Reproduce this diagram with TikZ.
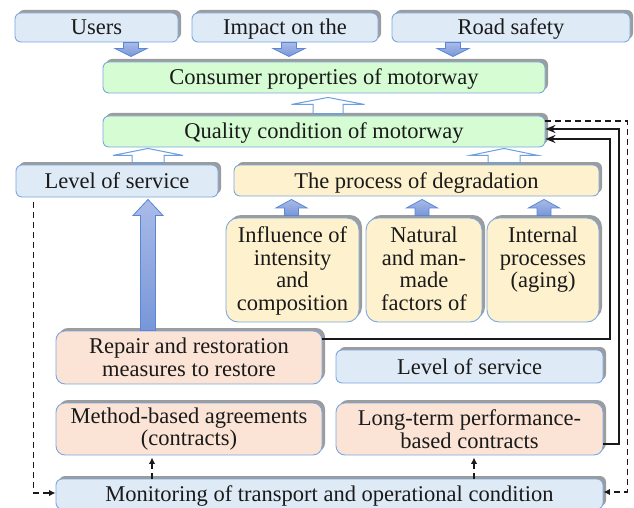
\documentclass[tikz,border=0pt]{standalone}
\usepackage{fontspec}
\setmainfont{Liberation Serif}
\usetikzlibrary{shadows,arrows.meta,calc}
\definecolor{bluefill}{HTML}{DEEAF6}
\definecolor{greenfill}{HTML}{D6FCD4}
\definecolor{yellowfill}{HTML}{FEF1CD}
\definecolor{peachfill}{HTML}{FBE4D6}
\definecolor{edgeblue}{HTML}{7BA8E0}
\definecolor{shadowgray}{HTML}{9C9C9C}
\definecolor{arrowlight}{HTML}{A9BBE8}
\definecolor{arrowdark}{HTML}{7896D8}
\definecolor{arrowedge}{HTML}{5A86D6}
\definecolor{hollowedge}{HTML}{6A9FE0}
\definecolor{txt}{HTML}{1A1A1A}
\tikzset{
  box/.style={draw=edgeblue, line width=0.9pt, rounded corners=6pt, text=txt,
    inner sep=0pt, align=center,
    drop shadow={shadow xshift=3pt, shadow yshift=3pt, fill=shadowgray, opacity=1},
    font=\fontsize{22.5}{22.5}\selectfont},
  oneline/.style={text height=15pt, text depth=0pt},
  bluebox/.style={box, fill=bluefill},
  greenbox/.style={box, fill=greenfill},
  yellowbox/.style={box, fill=yellowfill},
  peachbox/.style={box, fill=peachfill, rounded corners=9pt},
  tallbox/.style={rounded corners=12pt, minimum height=104pt},
  filledarrow/.style={draw=arrowedge, line width=0.8pt, top color=arrowlight, bottom color=arrowdark},
  hollowarrow/.style={draw=hollowedge, line width=1pt, fill=white},
  conn/.style={draw=black!90, line width=2pt, -{Stealth[length=10pt,width=8pt]}},
  dconn/.style={draw=black!90, line width=1.6pt, dash pattern=on 6pt off 4pt, -{Latex[length=6.5pt,width=6.5pt]}},
}
% #1 style, #2 tail point, #3 tip point (only its y is used), #4 half shaft, #5 half head, #6 head length
\newcommand{\blockarrow}[6]{%
  \path[#1] let \p1=#2, \p2=#3, \n1={sign(\y2-\y1)} in
    ({\x1-#4pt},\y1) -- ({\x1+#4pt},\y1) -- ({\x1+#4pt},{\y2-(\n1)*#6pt})
    -- ({\x1+#5pt},{\y2-(\n1)*#6pt}) -- (\x1,\y2) -- ({\x1-#5pt},{\y2-(\n1)*#6pt})
    -- ({\x1-#4pt},{\y2-(\n1)*#6pt}) -- cycle;}
\begin{document}
\begin{tikzpicture}[x=1pt,y=-1pt]
\useasboundingbox (0,0) rectangle (634,508);
% top row
\node[bluebox, oneline, minimum width=163pt, minimum height=29pt] (users) at (96.5,27.5) {Users};
\node[bluebox, oneline, minimum width=186pt, minimum height=29pt] (impact) at (285,27.5) {Impact on the};
\node[bluebox, oneline, minimum width=238pt, minimum height=29pt] (road) at (511,27.5) {Road safety};
% green boxes
\node[greenbox, oneline, minimum width=442pt, minimum height=31pt] (consumer) at (324,77.5) {Consumer properties of motorway};
\node[greenbox, oneline, minimum width=442pt, minimum height=31pt] (quality) at (324,131.5) {Quality condition of motorway};
% third row
\node[bluebox, oneline, minimum width=202pt, minimum height=32pt] (los1) at (117,181) {Level of service};
\node[yellowbox, oneline, minimum width=365pt, minimum height=31pt] (degr) at (416.5,180.5) {The process of degradation};
% factors
\node[yellowbox, tallbox, minimum width=133pt] (infl) at (292.5,270)
  {\parbox[t][86pt][t]{128pt}{\centering Influence of\\intensity\\and\\composition}};
\node[yellowbox, tallbox, minimum width=116pt] (natural) at (424,270)
  {\parbox[t][86pt][t]{112pt}{\centering Natural\\and man-\\made\\factors of}};
\node[yellowbox, tallbox, minimum width=112pt] (internal) at (543,270)
  {\parbox[t][86pt][t]{108pt}{\centering Internal\\processes\\(aging)}};
% lower boxes
\node[peachbox, minimum width=266pt, minimum height=53pt] (repair) at (189,357.5) {Repair and restoration\\measures to restore};
\node[bluebox, oneline, minimum width=267pt, minimum height=33pt] (los2) at (469.5,366.5) {Level of service};
\node[peachbox, minimum width=266pt, minimum height=52pt] (method) at (189,429) {Method-based agreements\\(contracts)};
\node[peachbox, minimum width=267pt, minimum height=52pt] (longterm) at (469.5,429) {Long-term performance-\\based contracts};
\node[bluebox, oneline, minimum width=547pt, minimum height=30pt] (monitor) at (329.5,494) {Monitoring of transport and operational condition};

% block arrows: top row down to consumer
\blockarrow{filledarrow}{([xshift=34.5pt]users.south)}{([yshift=5pt]consumer.north)}{7.5}{16}{8}
\blockarrow{filledarrow}{([xshift=4pt]impact.south)}{([yshift=5pt]consumer.north)}{7.5}{16}{8}
\blockarrow{filledarrow}{([xshift=-58pt]road.south)}{([yshift=5pt]consumer.north)}{7.5}{16}{8}
% hollow arrows
\blockarrow{hollowarrow}{([xshift=4pt,yshift=2pt]quality.north)}{([yshift=-4pt]consumer.south)}{15}{36.5}{7}
\blockarrow{hollowarrow}{([xshift=31pt,yshift=2pt]los1.north)}{([yshift=-1pt]quality.south)}{16}{35}{7}
\blockarrow{hollowarrow}{([xshift=87.5pt,yshift=2pt]degr.north)}{([yshift=-1pt]quality.south)}{16}{34}{7}
% factor arrows
\blockarrow{filledarrow}{([xshift=-1pt,yshift=2pt]infl.north)}{([yshift=-3pt]degr.south)}{7}{15.5}{8.5}
\blockarrow{filledarrow}{([xshift=-2pt,yshift=2pt]natural.north)}{([yshift=-3pt]degr.south)}{7}{15.5}{8.5}
\blockarrow{filledarrow}{([xshift=1pt,yshift=2pt]internal.north)}{([yshift=-3pt]degr.south)}{7}{15.5}{8.5}
% big arrow repair -> level of service
\blockarrow{filledarrow}{([xshift=-41pt]repair.north)}{([yshift=-2pt]los1.south)}{7.5}{15}{16}

% solid connectors to quality
\draw[conn] ([yshift=-8pt]repair.north east) -| ([xshift=65pt,yshift=-7.5pt]quality.east) -- ([yshift=-7.5pt]quality.east);
\draw[conn] ([yshift=-15pt]longterm.east) -| ([xshift=74pt,yshift=2.5pt]quality.east) -- ([yshift=2.5pt]quality.east);
% dashed connectors
\draw[dconn] ([yshift=10.5pt]quality.east) -- ([xshift=82pt,yshift=10.5pt]quality.east) |- ([yshift=2pt]monitor.east);
\draw[dconn] ([xshift=18pt,yshift=-5pt]los1.south west) |- ([yshift=1pt]monitor.west);
\draw[dconn] ([xshift=-37pt]method.south |- monitor.north) -- ([xshift=-37pt,yshift=-2pt]method.south);
\draw[dconn] ([xshift=4.5pt]longterm.south |- monitor.north) -- ([xshift=4.5pt,yshift=-2pt]longterm.south);
\end{tikzpicture}
\end{document}
